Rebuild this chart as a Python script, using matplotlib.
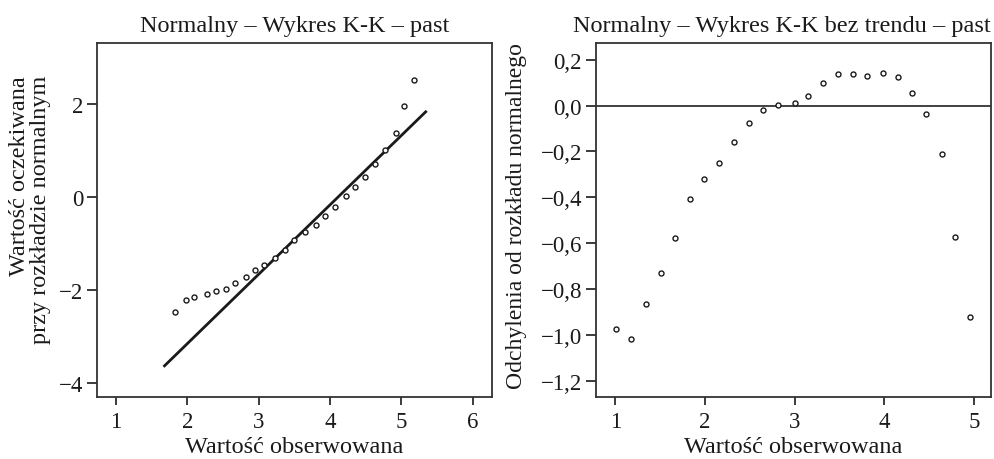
import numpy as np
import matplotlib as mpl, matplotlib.pyplot as plt
from matplotlib.ticker import FuncFormatter
mpl.use("Agg")

INK="#1a1a1a"; FRAME="#333333"
mpl.rcParams.update({"font.family":"serif","font.serif":["Liberation Serif","DejaVu Serif"],
    "text.color":INK,"xtick.color":INK,"ytick.color":INK,"axes.edgecolor":FRAME,
    "axes.linewidth":1.3,"xtick.labelsize":16.5,"ytick.labelsize":16.5,
    "xtick.major.size":6,"ytick.major.size":7,"xtick.major.width":1.2,"ytick.major.width":1.2,
    "xtick.major.pad":4,"ytick.major.pad":3})

# ---- data ----
obs_left=[1.83,1.98,2.10,2.27,2.40,2.54,2.67,2.82,2.95,3.08,3.23,3.37,3.50,3.65,3.80,3.93,4.07,
          4.22,4.35,4.49,4.63,4.77,4.92,5.04,5.18]
exp_left=[-2.47,-2.21,-2.16,-2.09,-2.02,-1.98,-1.86,-1.71,-1.58,-1.46,-1.32,-1.13,-0.92,-0.75,
          -0.60,-0.42,-0.22,0.02,0.22,0.42,0.71,1.01,1.38,1.96,2.52]
trend_x=[1.68,5.34]
trend_y=[-3.63,1.83]
obs_right=[1.01,1.18,1.34,1.51,1.67,1.83,1.99,2.16,2.32,2.49,2.65,2.82,3.00,3.15,3.32,3.48,3.65,
           3.81,3.99,4.15,4.31,4.47,4.64,4.79,4.96]
dev_right=[-0.974,-1.017,-0.862,-0.728,-0.577,-0.408,-0.318,-0.250,-0.158,-0.077,-0.020,0.004,
           0.010,0.043,0.100,0.137,0.139,0.130,0.142,0.126,0.056,-0.038,-0.212,-0.573,-0.920]
xt_left=[1,2,3,4,5,6]; yt_left=[-4,-2,0,2]
xt_right=[1,2,3,4,5]; yt_right=[-1.2,-1.0,-0.8,-0.6,-0.4,-0.2,0.0,0.2]

fig=plt.figure(figsize=(9.94,4.6),dpi=100)
ax1=fig.add_axes([0.0976,0.1348,0.3974,0.7696])
ax2=fig.add_axes([0.5996,0.1348,0.3974,0.7696])
mk=dict(ls="none",marker="o",ms=3.6,mfc="white",mec=INK,mew=1.0,zorder=3)
FS=17.5

# ---- left: Q-Q ----
ax1.plot(trend_x,trend_y,color=INK,lw=2.0,zorder=2)
ax1.plot(obs_left,exp_left,**mk)
ax1.set_xlim(0.734,6.27); ax1.set_ylim(-4.3,3.31)
ax1.set_xticks(xt_left); ax1.set_yticks(yt_left)
ax1.yaxis.set_major_formatter(FuncFormatter(lambda v,_:f"{v:.0f}".replace("-","\u2212")))
ax1.set_title("Normalny – Wykres K-K – past",fontsize=FS,pad=8.5)
ax1.text(0.5,-0.155,"Wartość obserwowana",transform=ax1.transAxes,ha="center",va="baseline",fontsize=FS)
ax1.text(-0.17,0.531,"Wartość oczekiwana\nprzy rozkładzie normalnym",transform=ax1.transAxes,
         rotation=90,ha="center",va="center",multialignment="right",fontsize=FS,linespacing=1.0)

# ---- right: detrended Q-Q ----
ax2.axhline(0,color=FRAME,lw=1.3,zorder=2)
ax2.plot(obs_right,dev_right,**mk)
ax2.set_xlim(0.785,5.19); ax2.set_ylim(-1.268,0.272)
ax2.set_xticks(xt_right); ax2.set_yticks(yt_right)
ax2.yaxis.set_major_formatter(FuncFormatter(lambda v,_:f"{v:.1f}".replace(".",",").replace("-","\u2212")))
ax2.set_title("Normalny – Wykres K-K bez trendu – past",fontsize=FS,pad=8.5,loc="right")
ax2.text(0.5,-0.155,"Wartość obserwowana",transform=ax2.transAxes,ha="center",va="baseline",fontsize=FS)
ax2.text(-0.2,0.514,"Odchylenia od rozkładu normalnego",transform=ax2.transAxes,
         rotation=90,ha="center",va="center",fontsize=17)

fig.savefig("out.png",dpi=100)
